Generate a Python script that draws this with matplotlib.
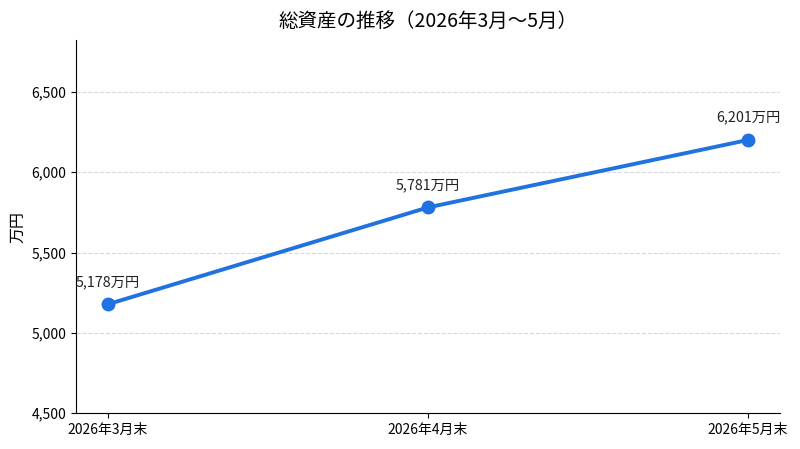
import matplotlib
matplotlib.use("Agg")
import matplotlib.pyplot as plt
from matplotlib.ticker import FuncFormatter

plt.rcParams["font.family"] = ["Noto Sans CJK JP", "DejaVu Sans"]

months = ["2026年3月末", "2026年4月末", "2026年5月末"]
assets = [5178, 5781, 6201]

LINE = "#1f72e0"

fig, ax = plt.subplots(figsize=(8.0, 4.49), dpi=100)
x = list(range(len(months)))
ax.plot(x, assets, color=LINE, lw=2.8, marker="o", ms=9, zorder=3)
for xi, v in zip(x, assets):
    ax.annotate(f"{v:,}万円", (xi, v), xytext=(0, 11), textcoords="offset points",
                ha="center", va="bottom", fontsize=10.3, color="#222")

ax.set_xticks(x)
ax.set_xticklabels(months, fontsize=10)
ax.set_xlim(-0.1, 2.1)
ax.set_ylim(4500, max(assets) * 1.1)
ax.set_yticks([4500, 5000, 5500, 6000, 6500])
ax.yaxis.set_major_formatter(FuncFormatter(lambda v, p: f"{int(v):,}"))
ax.tick_params(axis="y", labelsize=10)
ax.set_ylabel("万円", fontsize=11.5)
ax.set_title("総資産の推移（2026年3月〜5月）", fontsize=14, pad=10)
ax.grid(axis="y", ls="--", color="#d5d9e0", lw=0.8)
ax.set_axisbelow(True)
for s in ("top", "right"):
    ax.spines[s].set_visible(False)

fig.subplots_adjust(left=0.095, right=0.975, top=0.91, bottom=0.08)
fig.savefig("out.png", dpi=100)
